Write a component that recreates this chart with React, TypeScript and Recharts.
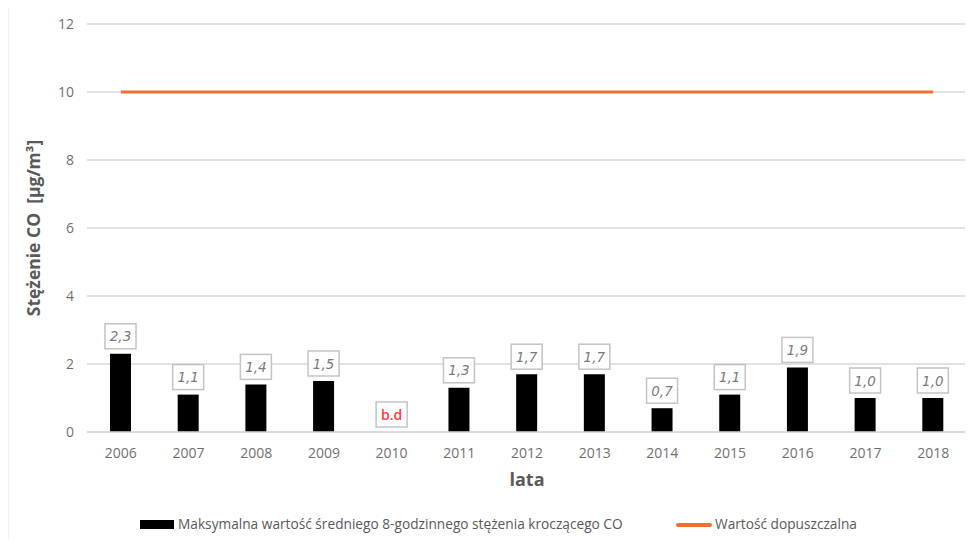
import React from "react";
import {
  Bar,
  CartesianGrid,
  ComposedChart,
  LabelList,
  Legend,
  Line,
  ReferenceDot,
  XAxis,
  YAxis,
} from "recharts";

const years = ["2006", "2007", "2008", "2009", "2010", "2011", "2012", "2013", "2014", "2015", "2016", "2017", "2018"];
// null = brak danych (b.d)
const maxCO = [2.3, 1.1, 1.4, 1.5, null, 1.3, 1.7, 1.7, 0.7, 1.1, 1.9, 1.0, 1.0];
const limitCO = [10, 10, 10, 10, 10, 10, 10, 10, 10, 10, 10, 10, 10];
const yTicks = [0, 2, 4, 6, 8, 10, 12];

const BAR_NAME = "Maksymalna wartość średniego 8-godzinnego stężenia kroczącego CO";
const LINE_NAME = "Wartość dopuszczalna";

const FONT = "'Open Sans', sans-serif";
const GREY = "#595959";
const TICK_GREY = "#707070";
const ORANGE = "#E97132";

const data = years.map((year, i) => ({
  year,
  co: maxCO[i],
  limit: limitCO[i],
}));

const missingYears = years.filter((_, i) => maxCO[i] == null);

const BOX_W = 31;
const BOX_H = 25;

// label box whose bottom edge sits 5px above the given point
function boxAt(cx: number, top: number, text: string, missing: boolean) {
  const boxY = top - 5 - BOX_H;
  return (
    <g>
      <rect x={cx - BOX_W / 2} y={boxY} width={BOX_W} height={BOX_H} fill="#fff" stroke="#c4c4c4" strokeWidth={1.5} />
      <text
        x={cx}
        y={boxY + BOX_H / 2 + 5}
        textAnchor="middle"
        fontFamily={missing ? FONT : "'DejaVu Sans', sans-serif"}
        fontSize={missing ? 14 : 13.5}
        fontStyle={missing ? "normal" : "italic"}
        fontWeight={missing ? 600 : 400}
        fill={missing ? "#ff3b3b" : "#7a7a7a"}
      >
        {text}
      </text>
    </g>
  );
}

function ValueBox(props: any) {
  const { x, y, width, value } = props;
  if (value == null) return null;
  return boxAt(Number(x) + Number(width) / 2, Number(y), Number(value).toFixed(1).replace(".", ","), false);
}

function NoDataBox(props: any) {
  const { cx, cy } = props;
  return boxAt(Number(cx), Number(cy), "b.d", true);
}

function YTitle(props: any) {
  const { viewBox } = props;
  const cy = viewBox.y + viewBox.height / 2;
  return (
    <text
      transform={`translate(40, ${cy}) rotate(-90)`}
      textAnchor="middle"
      fontFamily={FONT}
      fontSize={17.5}
      fontWeight={700}
      fill={GREY}
      style={{ whiteSpace: "pre" }}
    >
      {"Stężenie CO  [µg/m³]"}
    </text>
  );
}

function XTitle(props: any) {
  const { viewBox } = props;
  return (
    <text
      x={viewBox.x + viewBox.width / 2}
      y={486}
      textAnchor="middle"
      fontFamily={FONT}
      fontSize={18}
      fontWeight={700}
      fill={GREY}
    >
      lata
    </text>
  );
}

function LegendRow() {
  return (
    <div
      style={{
        position: "relative",
        height: 24,
        fontFamily: FONT,
        fontSize: 13.7,
        lineHeight: "24px",
        color: GREY,
        whiteSpace: "nowrap",
      }}
    >
      <span style={{ position: "absolute", left: 140, top: 8, width: 34, height: 9, background: "#000" }} />
      <span style={{ position: "absolute", left: 178, top: 0 }}>{BAR_NAME}</span>
      <span style={{ position: "absolute", left: 676, top: 11, width: 36, height: 3.5, borderRadius: 2, background: ORANGE }} />
      <span style={{ position: "absolute", left: 715, top: 0 }}>{LINE_NAME}</span>
    </div>
  );
}

export default function App() {
  return (
    <div style={{ margin: -8, position: "relative", width: 973, height: 547, background: "#fff", overflow: "hidden" }}>
      <div style={{ position: "absolute", left: 0, top: 0 }}>
        <ComposedChart
          width={973}
          height={547}
          data={data}
          margin={{ top: 24, right: 6, left: 20, bottom: 0 }}
          barCategoryGap={0}
        >
          <CartesianGrid stroke="#d9d9d9" strokeWidth={1.5} vertical={false} />
          <XAxis
            dataKey="year"
            height={91}
            tickSize={0}
            tickMargin={16}
            axisLine={{ stroke: "#d9d9d9", strokeWidth: 1.5 }}
            tick={{ fontFamily: FONT, fontSize: 14, fill: TICK_GREY }}
            label={<XTitle />}
          />
          <YAxis
            domain={[0, 12]}
            ticks={yTicks}
            width={67}
            tickSize={0}
            tickMargin={13}
            axisLine={false}
            tick={{ fontFamily: FONT, fontSize: 14, fill: TICK_GREY }}
            label={<YTitle />}
          />
          <Legend
            verticalAlign="bottom"
            content={<LegendRow />}
            wrapperStyle={{ bottom: 11, left: 0, width: 973 }}
          />
          <Bar dataKey="co" name={BAR_NAME} fill="#000" barSize={21} isAnimationActive={false}>
            <LabelList dataKey="co" content={<ValueBox />} />
          </Bar>
          <Line
            dataKey="limit"
            name={LINE_NAME}
            stroke={ORANGE}
            strokeWidth={3}
            dot={false}
            activeDot={false}
            isAnimationActive={false}
          />
          {missingYears.map((yr) => (
            <ReferenceDot key={yr} x={yr} y={0} r={0} ifOverflow="visible" shape={<NoDataBox />} />
          ))}
        </ComposedChart>
      </div>
      {/* outer frame: top and left edges */}
      <svg
        width={973}
        height={547}
        style={{ position: "absolute", left: 0, top: 0, pointerEvents: "none", zIndex: 5 }}
      >
        <path d="M7.5 547 V5.5 H973" fill="none" stroke="#c8c8c8" strokeWidth={1.5} />
      </svg>
    </div>
  );
}
